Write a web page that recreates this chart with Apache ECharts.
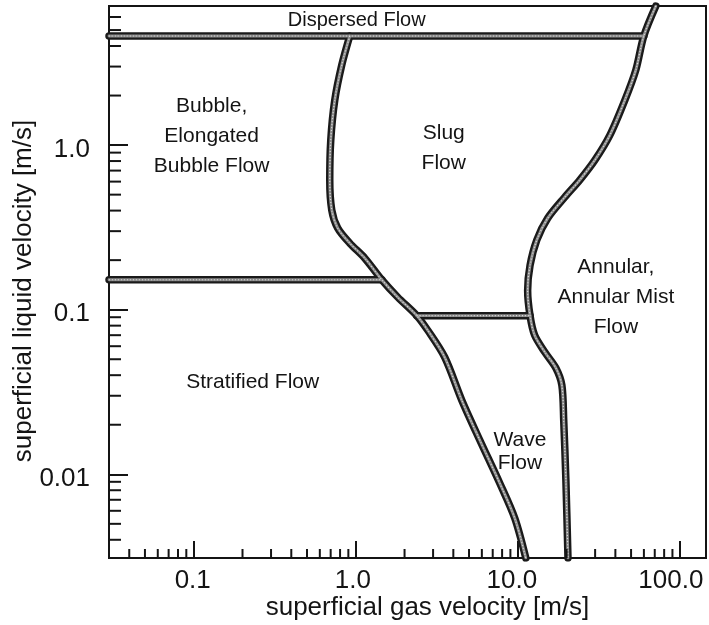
<!DOCTYPE html>
<html>
<head>
<meta charset="utf-8">
<script src="https://cdn.jsdelivr.net/npm/echarts@6/dist/echarts.min.js"></script>
<style>
  html, body { margin: 0; padding: 0; background: #ffffff; }
  #chart { width: 709px; height: 625px; }
</style>
</head>
<body>
<div id="chart"></div>
<script>
// Axis extents, m/s
const X_MIN = 0.03, X_MAX = 145;
const Y_MIN = 0.0031, Y_MAX = 7.0;

// Labelled decades and their text
const xTickValues = [0.1, 1, 10, 100];
const xTickLabels = ['0.1', '1.0', '10.0', '100.0'];
const yTickValues = [0.01, 0.1, 1];
const yTickLabels = ['0.01', '0.1', '1.0'];

// Intermediate tick values inside each decade
const xMinorTicks = [0.04, 0.05, 0.06, 0.07, 0.08, 0.09,
                     0.2, 0.3, 0.4, 0.5, 0.6, 0.7, 0.8, 0.9,
                     2, 3, 4, 5, 6, 7, 8, 9,
                     20, 30, 40, 50, 60, 70, 80, 90];
const yMinorTicks = [0.004, 0.005, 0.006, 0.007, 0.008, 0.009,
                     0.02, 0.03, 0.04, 0.05, 0.06, 0.07, 0.08, 0.09,
                     0.2, 0.3, 0.4, 0.5, 0.6, 0.7, 0.8, 0.9,
                     2, 3, 4, 5, 6];

// Flow-regime transition boundaries: [superficial gas velocity, superficial liquid velocity]
const dispersedBoundary = [[0.03, 4.6], [59.9, 4.6]];
const stratifiedBoundary = [[0.03, 0.152], [1.447, 0.152]];
const waveBoundary = [[2.38, 0.092], [11.9, 0.092]];
const slugBubbleBoundary = [
  [0.918, 4.6], [0.820, 3.07], [0.742, 1.877], [0.701, 1.072], [0.691, 0.613],
  [0.711, 0.403], [0.774, 0.313], [0.918, 0.2536], [1.137, 0.2056], [1.447, 0.152],
  [1.817, 0.119], [2.38, 0.092], [2.78, 0.075], [3.54, 0.0514], [4.51, 0.0282],
  [5.83, 0.0161], [7.74, 0.00882], [9.58, 0.0054], [11.2, 0.0031]
];
const annularBoundary = [
  [71.1, 7.0], [59.9, 4.6], [53.5, 2.86], [45.8, 1.877], [37.0, 1.15],
  [29.9, 0.811], [24.1, 0.613], [19.5, 0.483], [15.3, 0.360], [13.1, 0.265],
  [11.9, 0.186], [11.5, 0.131], [11.9, 0.092], [12.7, 0.070], [14.7, 0.0551],
  [17.2, 0.0441], [18.7, 0.0348], [19.2, 0.0213], [19.8, 0.0092], [20.4, 0.0031]
];

// Regime names and the point each one is centred on
const regionNames = [
  'Dispersed Flow',
  'Bubble,\nElongated\nBubble Flow',
  'Slug\nFlow',
  'Annular,\nAnnular Mist\nFlow',
  'Stratified Flow',
  'Wave\nFlow'
];
const regionAnchors = [
  [1.014, 5.71], [0.129, 1.134], [3.49, 0.96], [40.3, 0.119], [0.231, 0.0362], [10.3, 0.0138]
];

const INK = '#141414';
const TEXT_FONT = '"Liberation Sans", Arial, Helvetica, sans-serif';

function tickIndex(values, v) {
  for (let i = 0; i < values.length; i++) {
    if (Math.abs(Math.log10(v) - Math.log10(values[i])) < 1e-6) return i;
  }
  return -1;
}

// Wider decade labels sit a little left of their tick
const xLabelRich = {};
[2, 6, 12, 18].forEach(function (padRight, i) {
  xLabelRich['d' + i] = {
    fontFamily: TEXT_FONT, fontSize: 26, color: INK, padding: [0, padRight, 0, 0]
  };
});

// Each boundary is a dark band with a lighter, grainy core
const boundaries = [dispersedBoundary, stratifiedBoundary, waveBoundary, slugBubbleBoundary, annularBoundary];
const boundarySeries = [];
boundaries.forEach(function (pts) {
  boundarySeries.push({
    type: 'line', data: pts, showSymbol: false, smooth: 0.3, silent: true, z: 3,
    lineStyle: { color: '#1a1a1a', width: 7.5, cap: 'round', join: 'round' }
  });
});
boundaries.forEach(function (pts) {
  boundarySeries.push({
    type: 'line', data: pts, showSymbol: false, smooth: 0.3, silent: true, z: 4,
    lineStyle: { color: '#8c8c8c', width: 2.8, cap: 'round', join: 'round' }
  });
});
boundaries.forEach(function (pts) {
  boundarySeries.push({
    type: 'line', data: pts, showSymbol: false, smooth: 0.3, silent: true, z: 5,
    lineStyle: { color: '#dcdcdc', width: 1.2, type: [1, 2] }
  });
});

function minorTickSeries(data, horizontal, len) {
  return {
    type: 'custom', coordinateSystem: 'cartesian2d', silent: true, z: 6,
    data: data, encode: { x: 0, y: 1 },
    renderItem: function (params, api) {
      const p = api.coord([api.value(0), api.value(1)]);
      const shape = horizontal
        ? { x1: p[0], y1: p[1], x2: p[0] + len, y2: p[1] }
        : { x1: p[0], y1: p[1], x2: p[0], y2: p[1] - len };
      return { type: 'line', shape: shape, style: { stroke: INK, lineWidth: 2 } };
    }
  };
}

const chart = echarts.init(document.getElementById('chart'), null, { renderer: 'canvas' });
chart.setOption({
  animation: false,
  backgroundColor: '#ffffff',
  grid: {
    left: 109, right: 3, top: 6, bottom: 67,
    outerBoundsMode: 'none', containLabel: false,
    show: true, borderColor: INK, borderWidth: 2, backgroundColor: 'transparent'
  },
  xAxis: {
    type: 'log', logBase: 10, min: X_MIN, max: X_MAX,
    name: 'superficial gas velocity [m/s]', nameLocation: 'middle', nameGap: 37,
    nameMoveOverlap: false,
    nameTextStyle: { fontFamily: TEXT_FONT, fontSize: 26, color: INK, padding: [0, 0, 0, 40] },
    axisLine: { lineStyle: { color: INK, width: 2 } },
    axisTick: { inside: true, length: 17, lineStyle: { color: INK, width: 2 } },
    axisLabel: {
      formatter: function (v) {
        const i = tickIndex(xTickValues, v);
        return i < 0 ? '' : '{d' + i + '|' + xTickLabels[i] + '}';
      },
      rich: xLabelRich,
      fontFamily: TEXT_FONT, fontSize: 26, color: INK, margin: 10,
      showMinLabel: true, showMaxLabel: true, hideOverlap: false
    },
    splitLine: { show: false }, minorTick: { show: false }
  },
  yAxis: {
    type: 'log', logBase: 10, min: Y_MIN, max: Y_MAX,
    name: 'superficial liquid velocity [m/s]', nameLocation: 'middle', nameGap: 72, nameRotate: 90,
    nameMoveOverlap: false,
    nameTextStyle: { fontFamily: TEXT_FONT, fontSize: 26, color: INK, padding: [0, 18, 0, 0] },
    axisLine: { lineStyle: { color: INK, width: 2 } },
    axisTick: { inside: true, length: 19, lineStyle: { color: INK, width: 2 } },
    axisLabel: {
      formatter: function (v) {
        const i = tickIndex(yTickValues, v);
        return i < 0 ? '' : yTickLabels[i];
      },
      fontFamily: TEXT_FONT, fontSize: 26, color: INK, margin: 19,
      verticalAlign: 'top', lineHeight: 9
    },
    splitLine: { show: false }, minorTick: { show: false }
  },
  series: boundarySeries.concat([
    minorTickSeries(xMinorTicks.map(function (v) { return [v, Y_MIN]; }), false, 9),
    minorTickSeries(yMinorTicks.map(function (v) { return [X_MIN, v]; }), true, 12),
    {
      type: 'scatter', silent: true, z: 7,
      symbolSize: 1, itemStyle: { color: 'rgba(0,0,0,0)', opacity: 1 },
      data: regionNames.map(function (n, i) {
        const item = { name: n, value: regionAnchors[i] };
        if (n === 'Wave\nFlow') item.label = { lineHeight: 23 };
        if (n === 'Dispersed Flow') item.label = { fontSize: 20 };
        return item;
      }),
      label: {
        show: true, position: 'inside', formatter: '{b}',
        fontFamily: TEXT_FONT, fontSize: 21, lineHeight: 30, color: INK, align: 'center'
      }
    }
  ])
});
</script>
</body>
</html>
